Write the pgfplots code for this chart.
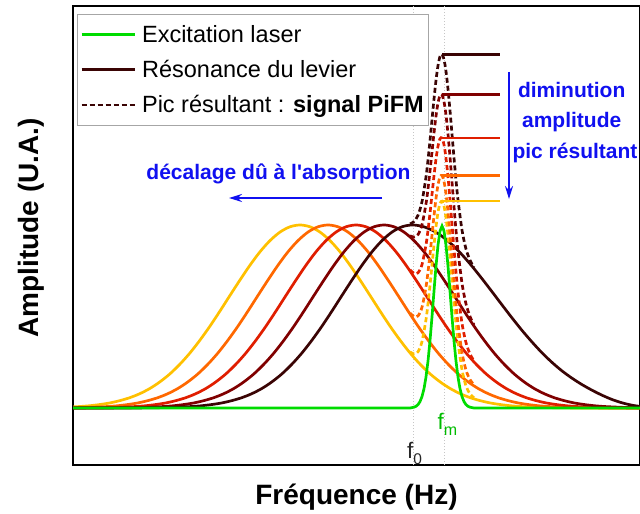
\documentclass[border=0pt]{standalone}
\usepackage{fontspec}
\setmainfont{Liberation Sans}
\usepackage{pgfplots}
\pgfplotsset{compat=1.18}
\usetikzlibrary{arrows.meta}
\definecolor{cdark}{RGB}{58,4,4}
\definecolor{cdred}{RGB}{128,0,0}
\definecolor{cred}{RGB}{224,30,0}
\definecolor{corange}{RGB}{255,104,0}
\definecolor{cyellow}{RGB}{255,192,0}
\definecolor{cgreen}{RGB}{0,220,0}
\definecolor{cblue}{RGB}{16,16,240}
\begin{document}
\begin{tikzpicture}
\useasboundingbox (0,0) rectangle (640bp,514bp);
\begin{axis}[
  at={(73bp,49bp)}, anchor=south west,
  scale only axis, width=567bp, height=459bp,
  xmin=73, xmax=640, ymin=-57, ymax=402,
  xtick=\empty, ytick=\empty,
  axis line style={line width=1.8bp},
  every axis plot/.append style={line width=2.7bp},
  xlabel={\bfseries Fréquence (Hz)},
  ylabel={\bfseries Amplitude (U.A.)},
  xlabel style={at={(rel axis cs:0.5,-0.0871)}, anchor=base, font=\fontsize{28bp}{32bp}\selectfont},
  ylabel style={at={(rel axis cs:-0.0617,0.517)}, anchor=base, font=\fontsize{28bp}{32bp}\selectfont},
  legend image code/.code={\draw[#1] (0bp,0bp) -- (53bp,0bp); \path (57bp,0bp);},
  legend cell align=left,
  legend style={at={(0.00705,0.9826)}, anchor=north west,
    draw=gray!70, line width=0.8bp, inner xsep=3bp, inner ysep=9bp, row sep=12.5bp,
    font=\fontsize{23.5bp}{28bp}\selectfont},
]
\addlegendimage{color=cgreen, line width=2.7bp}
\addlegendentry{Excitation laser}
\addlegendimage{color=cdark, line width=2.7bp}
\addlegendentry{Résonance du levier}
\addlegendimage{color=cdark, line width=2.7bp, dash pattern=on 5bp off 3bp}
\addlegendentry{Pic résultant : \textbf{signal PiFM}}

% guide lines f0 and fm
\addplot[forget plot, line width=1bp, gray!45, dotted] coordinates {(413,-57) (413,402)};
\addplot[forget plot, line width=1bp, gray!45, dotted] coordinates {(444,-57) (444,402)};

% resonance curves
\addplot[forget plot, cyellow, smooth] coordinates {(73,1.1) (80,1.5) (90,2.3) (100,3.5) (110,5.1) (120,7.4) (130,10.4) (140,14.4) (150,19.6) (160,26.2) (170,34.2) (180,43.9) (190,55.1) (200,67.9) (210,81.9) (220,97.0) (230,112.6) (240,128.0) (250,142.8) (260,156.2) (270,167.4) (280,175.9) (290,181.2) (300,183) (310,181.2) (320,175.9) (330,167.4) (340,156.2) (350,142.8) (360,128.0) (370,112.6) (380,97.0) (390,81.9) (400,67.9) (410,55.1) (420,43.9) (430,34.2) (440,26.2) (450,19.6) (460,14.4) (470,10.4) (480,7.4) (490,5.1) (500,3.5) (510,2.3) (520,1.5) (530,1.0) (540,0.6) (550,0.4) (560,0.2) (570,0.1) (600,0) (640,0)};
\addplot[forget plot, corange, smooth] coordinates {(73,0.3) (78,0.4) (88,0.6) (98,1.0) (108,1.5) (118,2.3) (128,3.5) (138,5.1) (148,7.4) (158,10.4) (168,14.4) (178,19.6) (188,26.2) (198,34.2) (208,43.9) (218,55.1) (228,67.9) (238,81.9) (248,97.0) (258,112.6) (268,128.0) (278,142.8) (288,156.2) (298,167.4) (308,175.9) (318,181.2) (328,183) (338,181.2) (348,175.9) (358,167.4) (368,156.2) (378,142.8) (388,128.0) (398,112.6) (408,97.0) (418,81.9) (428,67.9) (438,55.1) (448,43.9) (458,34.2) (468,26.2) (478,19.6) (488,14.4) (498,10.4) (508,7.4) (518,5.1) (528,3.5) (538,2.3) (548,1.5) (558,1.0) (568,0.6) (578,0.4) (588,0.2) (598,0.1) (640,0)};
\addplot[forget plot, cred, smooth] coordinates {(73,0) (86,0.1) (96,0.2) (106,0.4) (116,0.6) (126,1.0) (136,1.5) (146,2.3) (156,3.5) (166,5.1) (176,7.4) (186,10.4) (196,14.4) (206,19.6) (216,26.2) (226,34.2) (236,43.9) (246,55.1) (256,67.9) (266,81.9) (276,97.0) (286,112.6) (296,128.0) (306,142.8) (316,156.2) (326,167.4) (336,175.9) (346,181.2) (356,183) (366,181.2) (376,175.9) (386,167.4) (396,156.2) (406,142.8) (416,128.0) (426,112.6) (436,97.0) (446,81.9) (456,67.9) (466,55.1) (476,43.9) (486,34.2) (496,26.2) (506,19.6) (516,14.4) (526,10.4) (536,7.4) (546,5.1) (556,3.5) (566,2.3) (576,1.5) (586,1.0) (596,0.6) (606,0.4) (616,0.2) (626,0.1) (640,0)};
\addplot[forget plot, cdred, smooth] coordinates {(73,0) (104,0) (114,0.1) (124,0.2) (134,0.4) (144,0.6) (154,1.0) (164,1.5) (174,2.3) (184,3.5) (194,5.1) (204,7.4) (214,10.4) (224,14.4) (234,19.6) (244,26.2) (254,34.2) (264,43.9) (274,55.1) (284,67.9) (294,81.9) (304,97.0) (314,112.6) (324,128.0) (334,142.8) (344,156.2) (354,167.4) (364,175.9) (374,181.2) (384,183) (394,181.2) (404,175.9) (414,167.4) (424,156.2) (434,142.8) (444,128.0) (454,112.6) (464,97.0) (474,81.9) (484,67.9) (494,55.1) (504,43.9) (514,34.2) (524,26.2) (534,19.6) (544,14.4) (554,10.4) (564,7.4) (574,5.1) (584,3.5) (594,2.3) (604,1.5) (614,1.0) (624,0.6) (634,0.4) (640,0.3)};
\addplot[forget plot, cdark, smooth] coordinates {(73,0) (132,0) (142,0.1) (152,0.2) (162,0.4) (172,0.6) (182,1.0) (192,1.5) (202,2.3) (212,3.5) (222,5.1) (232,7.4) (242,10.4) (252,14.4) (262,19.6) (272,26.2) (282,34.2) (292,43.9) (302,55.1) (312,67.9) (322,81.9) (332,97.0) (342,112.6) (352,128.0) (362,142.8) (372,156.2) (382,167.4) (392,175.9) (402,181.2) (412,183) (422,181.7) (432,177.9) (442,171.7) (452,163.4) (462,153.3) (472,141.8) (482,129.3) (492,116.3) (502,103.1) (512,90.1) (522,77.6) (532,66.0) (542,55.2) (552,45.6) (562,37.1) (572,29.8) (582,23.4) (592,17.8) (602,12.8) (612,8.5) (622,5.2) (632,2.8) (640,1.6)};

% resulting peaks (dashed)
\addplot[forget plot, cyellow, smooth, dash pattern=on 5bp off 3bp] coordinates {(410,56.2) (414,54.0) (418,56.2) (422,66.4) (426,88.5) (428,104.3) (430,122.8) (432,142.9) (434,163.0) (436,181.2) (438,195.7) (440,204.6) (442,206.8) (444,201.8) (446,190.1) (448,172.8) (450,151.8) (452,128.9) (454,106.0) (456,84.7) (458,66.0) (462,38.2) (466,22.1) (470,14.0) (474,10.2)};
\addplot[forget plot, corange, smooth, dash pattern=on 5bp off 3bp] coordinates {(410,95.0) (414,91.5) (418,92.1) (422,100.8) (426,121.2) (428,136.2) (430,153.8) (432,173.0) (434,192.2) (436,209.6) (438,223.1) (440,231.1) (442,232.4) (444,226.6) (446,214.0) (448,195.9) (450,174.0) (452,150.2) (454,126.5) (456,104.3) (458,84.8) (462,55.4) (466,37.9) (470,28.4) (474,23.2)};
\addplot[forget plot, cred, smooth, dash pattern=on 5bp off 3bp] coordinates {(410,138.1) (414,134.7) (418,135.2) (422,143.4) (426,163.2) (428,177.7) (430,194.9) (432,213.6) (434,232.3) (436,249.0) (438,261.9) (440,269.3) (442,269.9) (444,263.3) (446,249.9) (448,231.0) (450,208.4) (452,183.8) (454,159.2) (456,136.2) (458,115.8) (462,84.6) (466,65.3) (470,54.0) (474,47.1)};
\addplot[forget plot, cdred, smooth, dash pattern=on 5bp off 3bp] coordinates {(410,172.2) (414,171.0) (418,173.4) (422,183.2) (426,204.2) (428,219.3) (430,237.0) (432,256.0) (434,275.0) (436,292.0) (438,305.0) (440,312.5) (442,313.1) (444,306.4) (446,293.0) (448,273.9) (450,251.0) (452,226.1) (454,201.2) (456,177.7) (458,156.9) (462,124.7) (466,104.1) (470,91.5) (474,83.0)};
\addplot[forget plot, cdark, smooth, dash pattern=on 5bp off 3bp] coordinates {(410,184.0) (414,186.5) (418,192.7) (422,206.3) (426,231.1) (428,248.0) (430,267.4) (432,288.3) (434,309.0) (436,327.7) (438,342.4) (440,351.5) (442,353.7) (444,348.6) (446,336.6) (448,318.9) (450,297.4) (452,273.8) (454,250.1) (456,227.8) (458,208.1) (462,177.9) (466,159.0) (470,147.8) (474,140.5)};

% peak level markers
\addplot[forget plot, cdark] coordinates {(442,353.7) (500,353.7)};
\addplot[forget plot, cdred] coordinates {(442,313.3) (500,313.3)};
\addplot[forget plot, cred] coordinates {(442,270.0) (500,270.0)};
\addplot[forget plot, corange] coordinates {(442,232.6) (500,232.6)};
\addplot[forget plot, cyellow] coordinates {(442,207.0) (500,207.0)};

% excitation laser
\addplot[forget plot, cgreen] coordinates {(73,0) (410,0) (414,0.8) (416,1.7) (418,3.4) (420,6.4) (422,11.4) (424,19.3) (426,31.0) (428,46.9) (430,67.2) (432,91.1) (434,116.9) (436,141.9) (438,162.9) (440,177.0) (442,182) (444,177.0) (446,162.9) (448,141.9) (450,116.9) (452,91.1) (454,67.2) (456,46.9) (458,31.0) (460,19.3) (462,11.4) (464,6.4) (466,3.4) (468,1.7) (470,0.8) (474,0) (640,0)};

% annotations
\draw[cblue, line width=2bp, -{Stealth[length=13bp,width=8bp]}] (axis cs:382,210) -- (axis cs:229,210);
\draw[cblue, line width=2bp, -{Stealth[length=13bp,width=8bp]}] (axis cs:509,336) -- (axis cs:509,209);
\node[anchor=base, inner sep=0pt, text=cblue, font=\bfseries\fontsize{21bp}{25bp}\selectfont] at (axis cs:278.5,228.7) {décalage dû à l\textquotesingle absorption};
\node[anchor=base, inner sep=0pt, text=cblue, font=\bfseries\fontsize{21bp}{25bp}\selectfont] at (axis cs:571.7,310) {diminution};
\node[anchor=base, inner sep=0pt, text=cblue, font=\bfseries\fontsize{21bp}{25bp}\selectfont] at (axis cs:571.7,280.5) {amplitude};
\node[anchor=base, inner sep=0pt, text=cblue, font=\bfseries\fontsize{21bp}{25bp}\selectfont] at (axis cs:575,249.5) {pic résultant};
\node[anchor=base, inner sep=0pt, text=black!85] at (axis cs:414.5,-51) {\fontsize{22.5bp}{24bp}\selectfont f\raisebox{-6bp}{\fontsize{15.5bp}{16bp}\selectfont 0}};
\node[anchor=base, inner sep=0pt, text=cgreen!85!black] at (axis cs:447.5,-22) {\fontsize{22.5bp}{24bp}\selectfont f\raisebox{-6bp}{\fontsize{16bp}{16bp}\selectfont m}};
\end{axis}
\end{tikzpicture}
\end{document}
